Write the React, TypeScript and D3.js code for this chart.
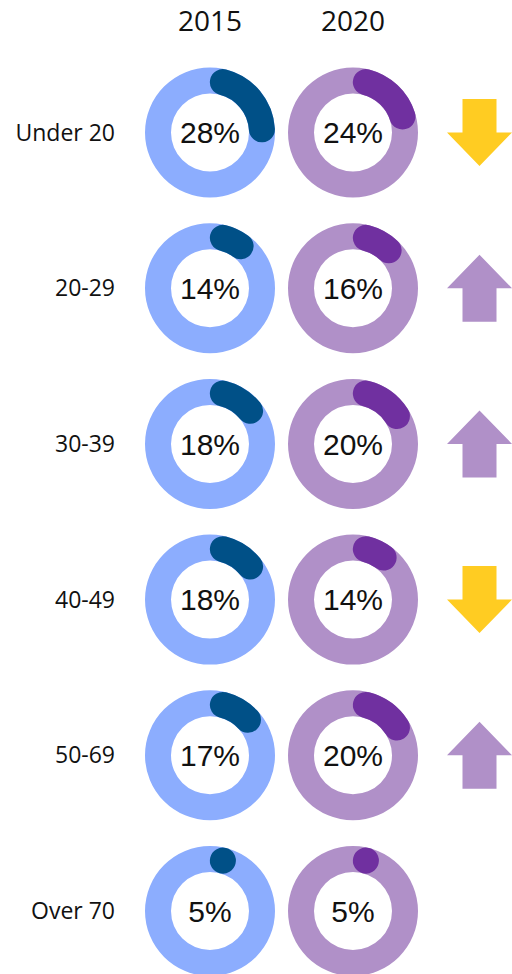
import React, { useEffect, useRef } from "react";
import * as d3 from "d3";

const categories = ["Under 20", "20-29", "30-39", "40-49", "50-69", "Over 70"];
const years = ["2015", "2020"];
const share2015 = [28, 14, 18, 18, 17, 5];
const share2020 = [24, 16, 20, 14, 20, 5];

const W = 512;
const H = 974;

export default function App() {
  const ref = useRef<SVGSVGElement>(null);

  useEffect(() => {
    const svg = d3.select(ref.current);
    svg.selectAll("*").remove();

    const y = d3.scalePoint<string>().domain(categories).range([132.5, 911]);
    const x = d3.scalePoint<string>().domain(years).range([210, 353]);

    const outerR = 65, innerR = 39;
    const midR = (outerR + innerR) / 2;
    const thick = outerR - innerR;
    const capAngle = (thick / 2) / midR;

    const ringColor: Record<string, string> = { "2015": "#8CADFE", "2020": "#B090C8" };
    const fillColor: Record<string, string> = { "2015": "#005087", "2020": "#7030A0" };

    const ring = d3.arc<any>().innerRadius(innerR).outerRadius(outerR)
      .startAngle(0).endAngle(2 * Math.PI);

    // year headers
    svg.selectAll(".hdr")
      .data(years)
      .enter()
      .append("text")
      .attr("x", (d) => x(d)!)
      .attr("y", 31)
      .attr("text-anchor", "middle")
      .attr("style", "font-family:'Open Sans';font-size:28px;fill:#111")
      .text((d) => d);

    // row labels
    svg.selectAll(".lbl")
      .data(categories)
      .enter()
      .append("text")
      .attr("x", 115)
      .attr("y", (d) => y(d)!)
      .attr("dy", "0.35em")
      .attr("text-anchor", "end")
      .attr("style", "font-family:'Open Sans';font-size:23px;fill:#111")
      .text((d) => d);

    const cells: { cat: string; year: string; v: number }[] = [];
    categories.forEach((c, i) => {
      cells.push({ cat: c, year: "2015", v: share2015[i] });
      cells.push({ cat: c, year: "2020", v: share2020[i] });
    });

    const g = svg.selectAll(".donut")
      .data(cells)
      .enter()
      .append("g")
      .attr("transform", (d) => "translate(" + x(d.year) + "," + y(d.cat) + ")");

    g.append("path")
      .attr("d", ring)
      .style("fill", (d) => ringColor[d.year]);

    // value arc with round caps (caps included in the share)
    g.append("path")
      .attr("d", (d) => {
        const total = (d.v / 100) * 2 * Math.PI;
        const a0 = capAngle;
        const a1 = Math.max(a0 + 0.001, total - capAngle);
        const p = d3.path();
        p.moveTo(midR * Math.sin(a0), -midR * Math.cos(a0));
        p.arc(0, 0, midR, a0 - Math.PI / 2, a1 - Math.PI / 2);
        return p.toString();
      })
      .style("fill", "none")
      .style("stroke", (d) => fillColor[d.year])
      .style("stroke-width", thick)
      .style("stroke-linecap", "round");

    g.append("text")
      .attr("dy", "0.36em")
      .attr("text-anchor", "middle")
      .attr("style", "font-family:'Liberation Sans';font-size:30px;fill:#111")
      .text((d) => d.v + "%");

    // change arrows
    const arrowX = 479.5;
    const aw = 32.5, ah = 33.5, sw = 17;
    const arrows = categories
      .map((c, i) => ({ cat: c, diff: share2020[i] - share2015[i] }))
      .filter((d) => d.diff !== 0);

    svg.selectAll(".arrow")
      .data(arrows)
      .enter()
      .append("path")
      .attr("transform", (d) => "translate(" + arrowX + "," + y(d.cat) + ")" + (d.diff < 0 ? " scale(1,-1)" : ""))
      .attr("d", () => {
        const p = d3.path();
        p.moveTo(0, -ah);
        p.lineTo(aw, 0);
        p.lineTo(sw, 0);
        p.lineTo(sw, ah);
        p.lineTo(-sw, ah);
        p.lineTo(-sw, 0);
        p.lineTo(-aw, 0);
        p.closePath();
        return p.toString();
      })
      .style("fill", (d) => (d.diff < 0 ? "#FFCC22" : "#B090C8"));
  }, []);

  return (
    <svg
      ref={ref}
      width={W}
      height={H}
      style={{ position: "absolute", left: 0, top: 0, background: "#fff" }}
    />
  );
}
